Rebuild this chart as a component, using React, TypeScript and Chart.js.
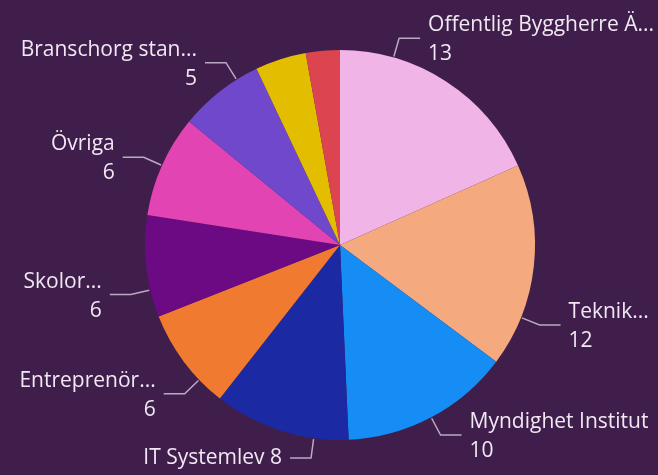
import React, { useEffect, useRef } from "react";
import { Chart, registerables } from "chart.js";

Chart.register(...registerables);

// ---- data ----
const categories: string[] = [
  "Offentlig Byggherre Ä...",
  "Teknik...",
  "Myndighet Institut",
  "IT Systemlev",
  "Entreprenör...",
  "Skolor...",
  "Övriga",
  "Branschorg stan...",
  "",
  "",
];
const values: number[] = [13, 12, 10, 8, 6, 6, 6, 5, 3, 2];
const sliceColors: string[] = [
  "#F0B4E6",
  "#F4AA7E",
  "#168DF4",
  "#1B2AA3",
  "#F07A30",
  "#6C0A84",
  "#E244B4",
  "#7048CC",
  "#E3BE00",
  "#DC4450",
];

// ---- label layout (decoration only) ----
const labelAngleShiftDeg: number[] = [-17, 15.5, 0, -10, -7, -7, 0, 6, 0, 0];
const labelInline: boolean[] = [false, false, false, true, false, false, false, false, false, false];

const BG = "#401E4C";
const TEXT = "#F0E8F2";
const LINE = "rgba(215,205,222,0.8)";
const FONT = "21px 'Open Sans', 'Noto Sans', sans-serif";

const leaderPlugin = {
  id: "leaderLabels",
  afterDatasetsDraw(chart: any) {
    const meta = chart.getDatasetMeta(0);
    const ctx: CanvasRenderingContext2D = chart.ctx;
    ctx.save();
    ctx.font = FONT;
    meta.data.forEach((arc: any, i: number) => {
      const name = categories[i];
      if (!name) return;
      const { x, y, startAngle, endAngle, outerRadius } = arc.getProps(
        ["x", "y", "startAngle", "endAngle", "outerRadius"],
        true
      );
      const a = (startAngle + endAngle) / 2 + (labelAngleShiftDeg[i] * Math.PI) / 180;
      const cos = Math.cos(a);
      const sin = Math.sin(a);
      const right = cos >= 0;
      const p0x = x + cos * (outerRadius + 1);
      const p0y = y + sin * (outerRadius + 1);
      const p1x = x + cos * (outerRadius + 20);
      const p1y = y + sin * (outerRadius + 20);
      const p2x = p1x + (right ? 21 : -21);
      const p2y = p1y;
      ctx.strokeStyle = LINE;
      ctx.lineWidth = 1.5;
      ctx.beginPath();
      ctx.moveTo(p0x, p0y);
      ctx.lineTo(p1x, p1y);
      ctx.lineTo(p2x, p2y);
      ctx.stroke();
      ctx.fillStyle = TEXT;
      ctx.textAlign = right ? "left" : "right";
      ctx.textBaseline = "middle";
      const tx = p2x + (right ? 8 : -8);
      const val = String(values[i]);
      if (labelInline[i]) {
        ctx.fillText(name + " " + val, tx, p2y);
      } else {
        ctx.fillText(name, tx, p2y - 13);
        ctx.fillText(val, tx, p2y + 16);
      }
    });
    ctx.restore();
  },
};

export default function App() {
  const canvasRef = useRef<HTMLCanvasElement | null>(null);

  useEffect(() => {
    document.body.style.margin = "0";
    document.body.style.background = BG;
    const canvas = canvasRef.current;
    if (!canvas) return;
    const chart = new Chart(canvas, {
      type: "pie",
      data: {
        labels: categories,
        datasets: [
          {
            data: values,
            backgroundColor: sliceColors,
            borderWidth: 0,
          },
        ],
      },
      options: {
        responsive: false,
        animation: false,
        layout: { padding: { top: 50, bottom: 35, left: 145, right: 123 } },
        plugins: {
          legend: { display: false },
          tooltip: { enabled: false },
        },
      },
      plugins: [leaderPlugin],
    });
    return () => chart.destroy();
  }, []);

  return (
    <div style={{ width: 658, height: 475, background: BG }}>
      <canvas ref={canvasRef} width={658} height={475} style={{ display: "block" }} />
    </div>
  );
}
